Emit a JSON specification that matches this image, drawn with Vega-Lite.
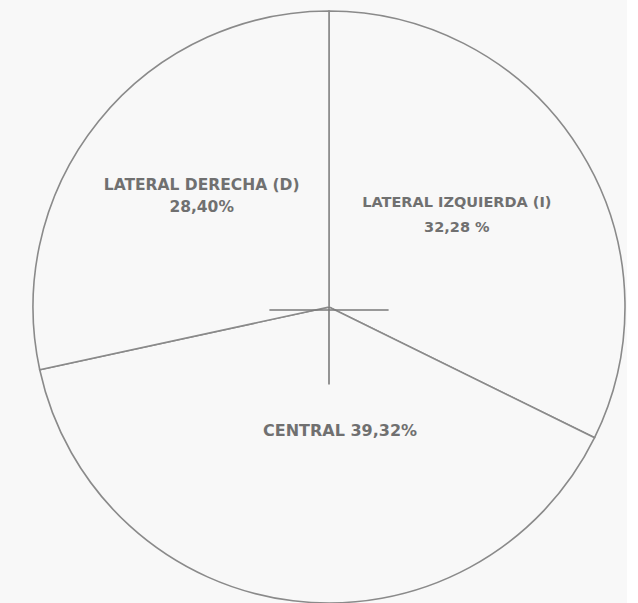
{
  "$schema": "https://vega.github.io/schema/vega-lite/v6.json",
  "width": 596,
  "height": 596,
  "autosize": "none",
  "padding": {"left": 31, "top": 9, "right": 0, "bottom": 0},
  "background": "#f8f8f8",
  "config": {"view": {"stroke": null}},
  "data": {
    "values": [
      {"zona": "LATERAL IZQUIERDA (I)", "pct": 32.28, "etiqueta": "LATERAL IZQUIERDA (I)\n32,28 %"},
      {"zona": "CENTRAL", "pct": 39.32, "etiqueta": "CENTRAL 39,32%"},
      {"zona": "LATERAL DERECHA (D)", "pct": 28.40, "etiqueta": "LATERAL DERECHA (D)\n28,40%"}
    ]
  },
  "transform": [
    {"window": [{"op": "row_number", "as": "orden"}]},
    {"stack": "pct", "groupby": [], "sort": [{"field": "orden"}], "as": ["t0", "t1"]},
    {"calculate": "(datum.t0 + datum.t1) / 2", "as": "mid"}
  ],
  "layer": [
    {
      "mark": {"type": "arc", "outerRadius": 296, "fill": "#f8f8f8", "stroke": "#8a8a8a", "strokeWidth": 1.6},
      "encoding": {
        "theta": {"field": "t0", "type": "quantitative", "stack": null, "scale": {"domain": [0, 100], "range": [0, 6.283185]}},
        "theta2": {"field": "t1"}
      }
    },
    {
      "data": {
        "values": [
          {"x": 0, "x2": 0, "y": 0, "y2": -0.26},
          {"x": -0.2, "x2": 0.2, "y": -0.01, "y2": -0.01}
        ]
      },
      "mark": {"type": "rule", "stroke": "#7a7a7a", "strokeWidth": 1.6},
      "encoding": {
        "x": {"field": "x", "type": "quantitative", "scale": {"domain": [-1, 1]}, "axis": null},
        "x2": {"field": "x2"},
        "y": {"field": "y", "type": "quantitative", "scale": {"domain": [-1, 1]}, "axis": null},
        "y2": {"field": "y2"}
      }
    },
    {
      "transform": [{"filter": "datum.zona === 'LATERAL IZQUIERDA (I)'"}],
      "mark": {"type": "text", "radius": 160, "dx": -8, "dy": -19, "font": "DejaVu Sans", "fontWeight": "bold", "fontSize": 14.5, "fill": "#707070", "lineBreak": "\n", "lineHeight": 25, "baseline": "middle"},
      "encoding": {
        "theta": {"field": "mid", "type": "quantitative", "scale": {"domain": [0, 100], "range": [0, 6.283185]}},
        "text": {"field": "etiqueta"}
      }
    },
    {
      "transform": [{"filter": "datum.zona === 'CENTRAL'"}],
      "mark": {"type": "text", "radius": 123, "dx": 26, "dy": 2, "font": "DejaVu Sans", "fontWeight": "bold", "fontSize": 16, "fill": "#707070", "baseline": "middle"},
      "encoding": {
        "theta": {"field": "mid", "type": "quantitative", "scale": {"domain": [0, 100], "range": [0, 6.283185]}},
        "text": {"field": "etiqueta"}
      }
    },
    {
      "transform": [{"filter": "datum.zona === 'LATERAL DERECHA (D)'"}],
      "mark": {"type": "text", "radius": 170, "dx": 5, "dy": -15, "font": "DejaVu Sans", "fontWeight": "bold", "fontSize": 15.5, "fill": "#707070", "lineBreak": "\n", "lineHeight": 22, "baseline": "middle"},
      "encoding": {
        "theta": {"field": "mid", "type": "quantitative", "scale": {"domain": [0, 100], "range": [0, 6.283185]}},
        "text": {"field": "etiqueta"}
      }
    }
  ]
}
